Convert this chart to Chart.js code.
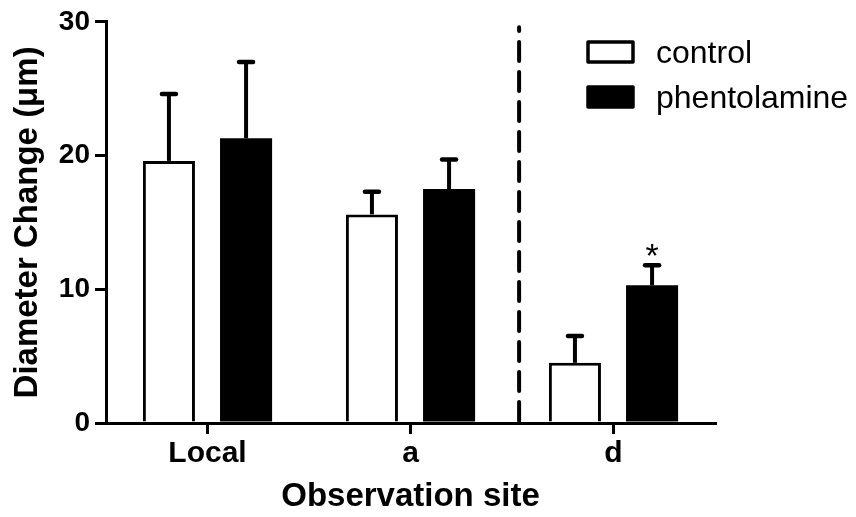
<!DOCTYPE html>
<html>
<head>
<meta charset="utf-8">
<script src="https://cdn.jsdelivr.net/npm/chart.js@4/dist/chart.umd.min.js"></script>
<style>
  html, body { margin: 0; padding: 0; background: #fff; }
  #wrap { width: 856px; height: 517px; }
</style>
</head>
<body>
<div id="wrap"><canvas id="chart" width="856" height="517"></canvas></div>
<script>
  var sites = ['Local', 'a', 'd'];
  var controlMean = [19.6, 15.6, 4.5];
  var controlSem = [5.0, 1.7, 2.0];
  var phentolamineMean = [21.3, 17.5, 10.3];
  var phentolamineSem = [5.7, 2.2, 1.5];
  var phentolamineMarks = ['', '', '*'];
  var yMin = 0;
  var yMax = 30;
  var yStep = 10;
  // dashed separator sits between site "a" and site "d" (category index units)
  var dividerAt = 1.535;

  var FONT = 'Arial, "Liberation Sans", Helvetica, sans-serif';

  // upward-only SEM whiskers plus the significance marks
  var errorBars = {
    id: 'errorBars',
    afterDatasetsDraw: function (chart) {
      var ctx = chart.ctx;
      var y = chart.scales.y;
      ctx.save();
      chart.data.datasets.forEach(function (ds, di) {
        var meta = chart.getDatasetMeta(di);
        meta.data.forEach(function (bar, i) {
          var top = y.getPixelForValue(ds.data[i] + ds.sem[i]);
          ctx.strokeStyle = '#000';
          ctx.lineWidth = 4;
          ctx.lineCap = 'butt';
          ctx.beginPath();
          ctx.moveTo(bar.x, bar.y);
          ctx.lineTo(bar.x, top);
          ctx.stroke();
          ctx.lineCap = 'round';
          ctx.lineWidth = 4.5;
          ctx.beginPath();
          ctx.moveTo(bar.x - 7, top);
          ctx.lineTo(bar.x + 7, top);
          ctx.stroke();
          if (ds.marks && ds.marks[i]) {
            ctx.fillStyle = '#000';
            ctx.font = '34px ' + FONT;
            ctx.textAlign = 'center';
            ctx.textBaseline = 'alphabetic';
            ctx.fillText(ds.marks[i], bar.x, top + 2);
          }
        });
      });
      ctx.restore();
    },
  };

  var divider = {
    id: 'divider',
    beforeDatasetsDraw: function (chart) {
      var ctx = chart.ctx;
      var x = chart.scales.x.getPixelForValue(dividerAt);
      var y = chart.scales.y;
      ctx.save();
      ctx.strokeStyle = '#000';
      ctx.lineWidth = 4;
      ctx.lineCap = 'round';
      ctx.setLineDash([19, 11]);
      ctx.beginPath();
      ctx.moveTo(x, y.getPixelForValue(yMin) - 2);
      ctx.lineTo(x, y.getPixelForValue(29.6));
      ctx.stroke();
      ctx.restore();
    },
  };

  var boxLegend = {
    id: 'boxLegend',
    afterDraw: function (chart) {
      var ctx = chart.ctx;
      ctx.save();
      chart.data.datasets.forEach(function (ds, di) {
        var bx = 588, by = 42 + di * 45;
        ctx.fillStyle = ds.backgroundColor;
        ctx.fillRect(bx, by, 45, 20);
        ctx.strokeStyle = '#000';
        ctx.lineWidth = 3.5;
        ctx.lineJoin = 'round';
        ctx.strokeRect(bx, by, 45, 20);
        ctx.fillStyle = '#000';
        ctx.font = '32px ' + FONT;
        ctx.textAlign = 'left';
        ctx.textBaseline = 'alphabetic';
        ctx.fillText(ds.label, 656, by + 21);
      });
      ctx.restore();
    },
  };

  new Chart(document.getElementById('chart'), {
    type: 'bar',
    data: {
      labels: sites,
      datasets: [
        {
          label: 'control',
          data: controlMean,
          sem: controlSem,
          backgroundColor: '#ffffff',
          borderColor: '#000000',
          borderWidth: 3,
        },
        {
          label: 'phentolamine',
          data: phentolamineMean,
          sem: phentolamineSem,
          marks: phentolamineMarks,
          backgroundColor: '#000000',
          borderColor: '#000000',
          borderWidth: 0,
        },
      ],
    },
    options: {
      responsive: false,
      animation: false,
      events: [],
      barPercentage: 0.675,
      categoryPercentage: 0.76,
      layout: { padding: { top: 5, right: 141, bottom: 0, left: 0 } },
      plugins: {
        legend: { display: false },
        tooltip: { enabled: false },
      },
      scales: {
        x: {
          grid: {
            offset: false,
            drawOnChartArea: false,
            color: '#000',
            lineWidth: 3,
            tickLength: 11,
          },
          border: { color: '#000', width: 3 },
          ticks: {
            color: '#000',
            padding: 2,
            font: { family: FONT, size: 30, weight: 'bold' },
          },
          title: {
            display: true,
            text: 'Observation site',
            color: '#000',
            padding: { top: 0, bottom: 0 },
            font: { family: FONT, size: 33, weight: 'bold' },
          },
          afterFit: function (scale) {
            scale.height = 94;
          },
        },
        y: {
          min: yMin,
          max: yMax,
          grid: {
            drawOnChartArea: false,
            color: '#000',
            lineWidth: 3,
            tickLength: 11,
          },
          border: { color: '#000', width: 3 },
          ticks: {
            stepSize: yStep,
            color: '#000',
            padding: 5,
            font: { family: FONT, size: 28, weight: 'bold' },
          },
          title: {
            display: true,
            text: 'Diameter Change (μm)',
            color: '#000',
            padding: { top: 8, bottom: 0 },
            font: { family: FONT, size: 33, weight: 'bold' },
          },
          afterFit: function (scale) {
            scale.width = 106;
          },
        },
      },
    },
    plugins: [divider, errorBars, boxLegend],
  });
</script>
</body>
</html>
